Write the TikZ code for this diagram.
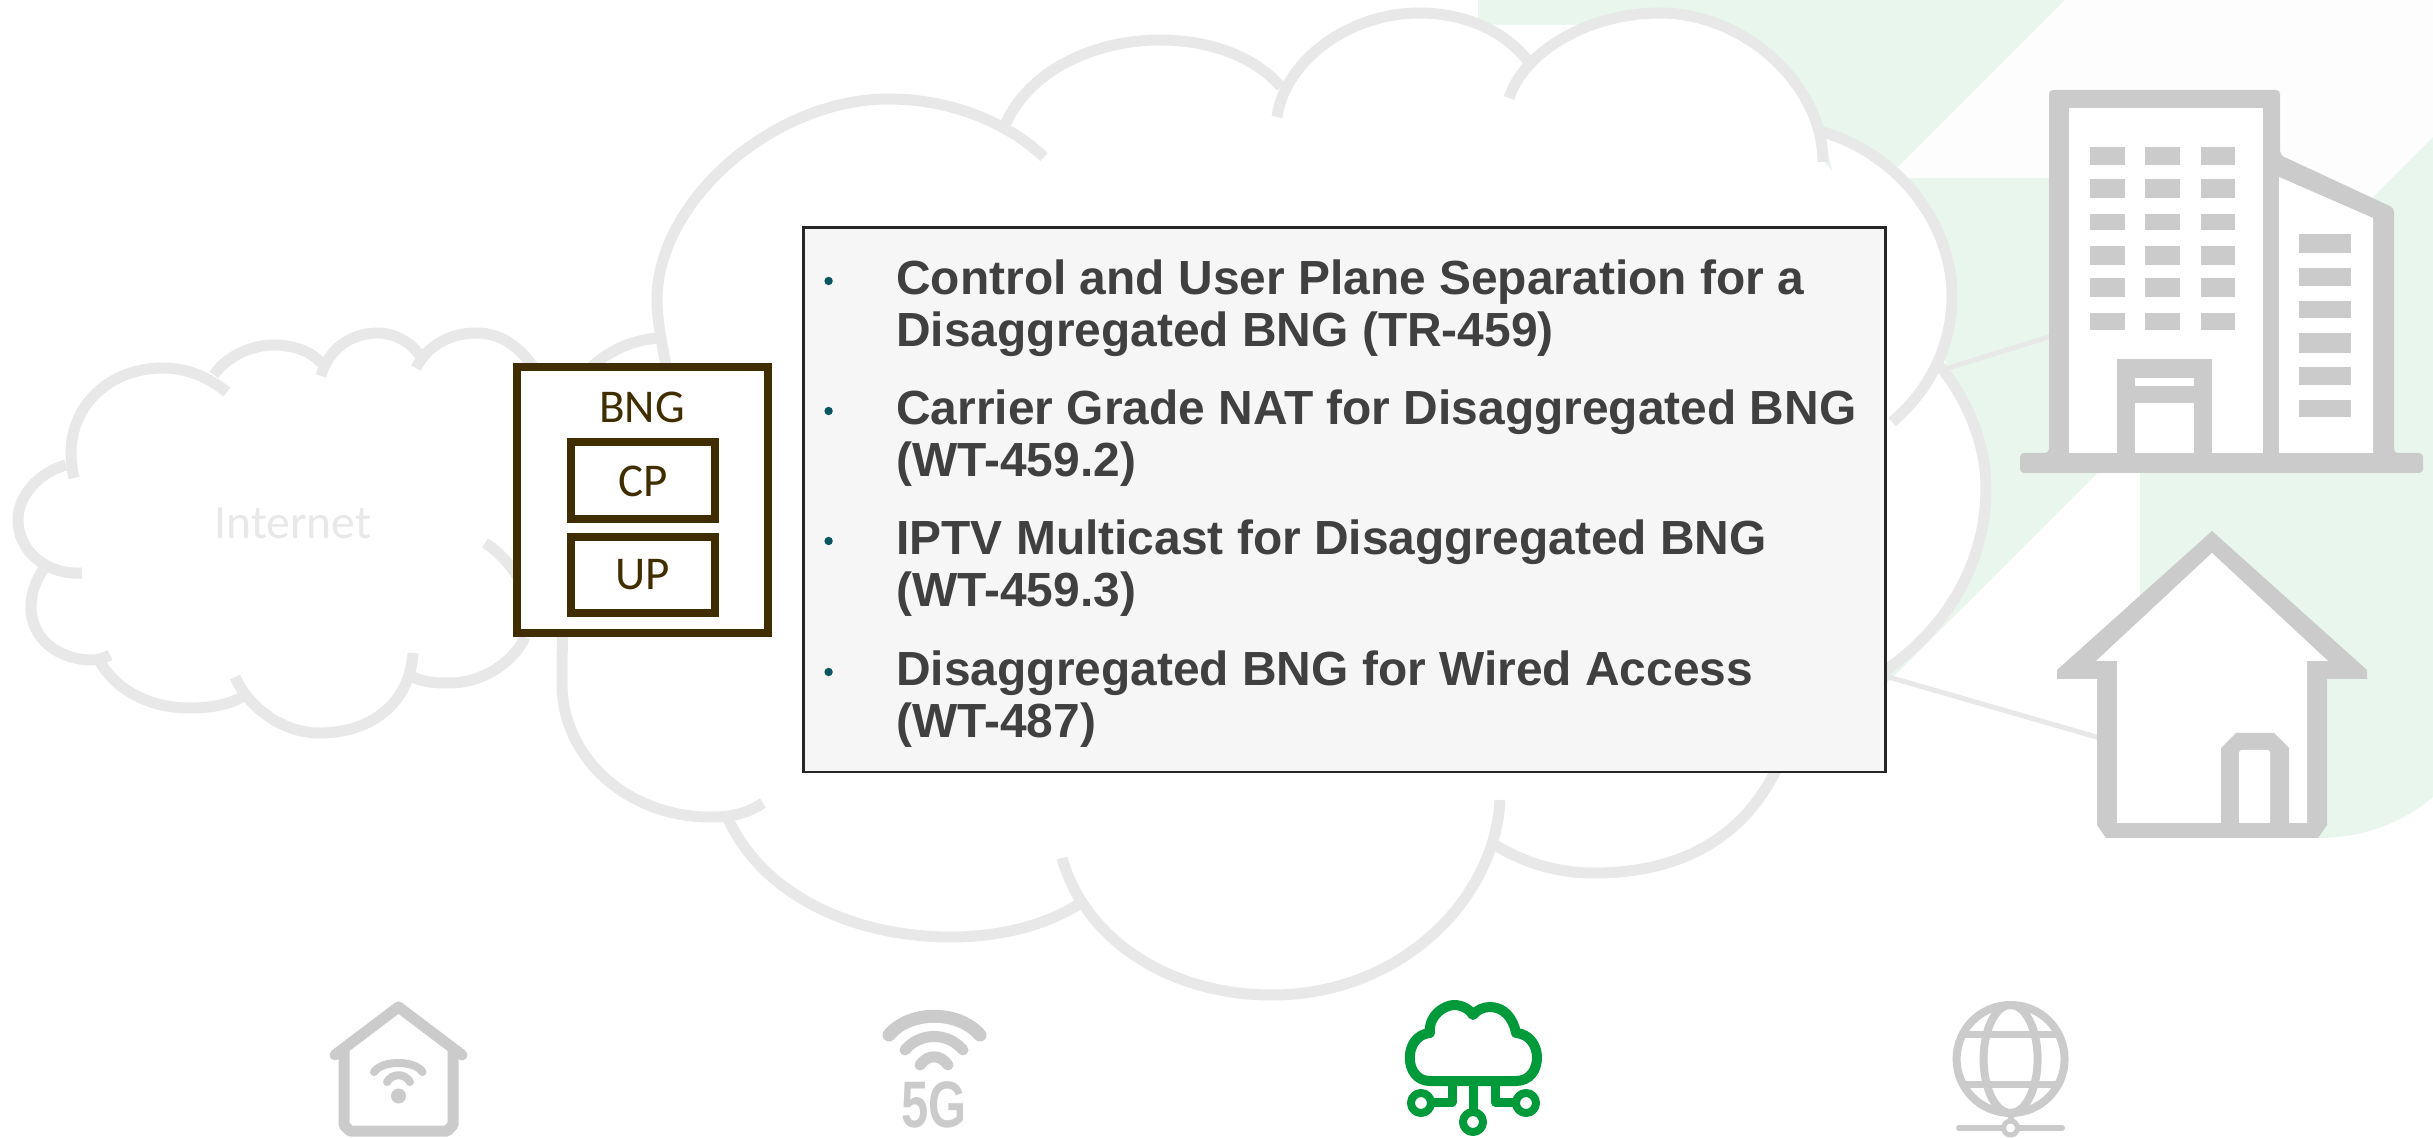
\documentclass[tikz,border=0pt]{standalone}
\usepackage{fontspec}
\setmainfont{Liberation Sans}
\newfontfamily\carlitofont{Carlito}
\definecolor{cloudgray}{HTML}{E8E8E8}
\definecolor{icongray}{HTML}{CBCBCB}
\definecolor{palegreen}{HTML}{E9F6ED}
\definecolor{offwhite}{HTML}{FDFDFD}
\definecolor{bngbrown}{HTML}{402D00}
\definecolor{icongreen}{HTML}{009A3B}
\definecolor{boxfill}{HTML}{F6F6F6}
\definecolor{listtext}{HTML}{404040}
\definecolor{bullet}{HTML}{0B5563}
\tikzset{
  cloudline/.style={draw=cloudgray,line width=5.5pt},
  link/.style={draw=cloudgray,line width=2.5pt},
  bngbox/.style={draw=bngbrown,fill=white,line width=4pt,inner sep=0pt,text=bngbrown,font=\carlitofont\fontsize{23.5}{25}\selectfont},
  listitem/.style={anchor=north west,inner sep=0pt,align=left,text=listtext,font=\bfseries\fontsize{23.95}{26}\selectfont},
  dotmark/.style={circle,fill=bullet,inner sep=0pt,minimum size=4.2pt},
  greyicon/.style={draw=icongray,line cap=round,line join=round},
  greenicon/.style={draw=icongreen,line join=round}
}
\newcommand\cloudfill[1]{\fill[white] #1 -- cycle;}
\newcommand\cloudstroke[1]{\draw[cloudline] #1;}
\newcommand\mainlobes[1]{%
 #1{(669,380) .. controls (662,345) and (657,320) .. (657,300) .. controls (657,200) and (775,99) .. (888,99) .. controls (955,99) and (1010,125) .. (1044,157)}%
 #1{(1006,123) .. controls (1030,70) and (1095,40) .. (1160,40) .. controls (1215,40) and (1258,60) .. (1281,87)}%
 #1{(1277,117) .. controls (1285,60) and (1350,13) .. (1419,13) .. controls (1470,13) and (1510,35) .. (1531,65)}%
 #1{(1509,98) .. controls (1525,50) and (1590,13) .. (1660,13) .. controls (1745,13) and (1823,85) .. (1823,162)}%
 #1{(1823,132) .. controls (1900,155) and (1952,225) .. (1952,296) .. controls (1952,345) and (1930,390) .. (1892,422)}%
 #1{(1939,365) .. controls (1968,400) and (1986,445) .. (1986,488) .. controls (1986,565) and (1945,630) .. (1883,672)}%
 #1{(1790,735) .. controls (1760,830) and (1690,873) .. (1594,873) .. controls (1552,873) and (1520,860) .. (1495,845)}%
 #1{(1500,800) .. controls (1495,900) and (1400,995) .. (1272,995) .. controls (1170,995) and (1085,940) .. (1062,858)}%
 #1{(1085,900) .. controls (1050,925) and (1000,937) .. (951,937) .. controls (860,937) and (765,900) .. (727,817)}%
 #1{(763,803) .. controls (745,815) and (728,817) .. (710,817) .. controls (630,817) and (562,760) .. (562,683) .. controls (562,640) and (565,500) .. (565,420) .. controls (570,375) and (610,342) .. (658,338)}%
}
\newcommand\smalllobes[1]{%
 #1{(227,392) .. controls (205,375) and (185,368) .. (163,368) .. controls (110,368) and (71,405) .. (71,453) .. controls (71,460) and (72,470) .. (74,478)}%
 #1{(214,375) .. controls (225,358) and (250,345) .. (273,345) .. controls (295,345) and (312,352) .. (321,363)}%
 #1{(321,376) .. controls (328,350) and (350,333) .. (378,333) .. controls (395,333) and (412,343) .. (421,357)}%
 #1{(416,368) .. controls (428,345) and (450,333) .. (477,333) .. controls (510,333) and (535,360) .. (550,400)}%
 #1{(66,465) .. controls (40,472) and (18,495) .. (18,520) .. controls (18,550) and (45,575) .. (82,573)}%
 #1{(43,570) .. controls (36,580) and (31,593) .. (31,607) .. controls (31,640) and (60,660) .. (92,660) .. controls (98,660) and (105,658) .. (110,655)}%
 #1{(99,660) .. controls (115,690) and (150,708) .. (189,708) .. controls (210,708) and (228,705) .. (242,697)}%
 #1{(235,677) .. controls (250,710) and (285,733) .. (319,733) .. controls (375,733) and (410,700) .. (413,653)}%
 #1{(413,677) .. controls (425,683) and (437,683) .. (449,683) .. controls (485,683) and (515,660) .. (525,637)}%
 #1{(485,543) .. controls (505,555) and (522,580) .. (530,600)}%
}
\begin{document}
\begin{tikzpicture}[x=0.5pt,y=-0.5pt]
\useasboundingbox (0,0) rectangle (2433,1138);
\fill[white] (0,0) rectangle (2433,1138);
% background shapes
\fill[palegreen] (1478,0) -- (2065,0) -- (1887,178) -- (2433,137) -- (2433,797)
  .. controls (2400,825) and (2360,838) .. (2317,838) -- (2140,838) -- (2140,430) -- (1820,750) -- (1478,400) -- cycle;
\fill[offwhite] (2065,0) -- (2433,0) -- (2433,137) -- (2300,270) -- (2270,178) -- (1887,178) -- cycle;
% connectors
\coordinate (cloudA) at (1945,369);
\coordinate (tower) at (2052,336);
\coordinate (cloudB) at (1885,676);
\coordinate (home) at (2100,738);
\draw[link] (cloudA) -- (tower);
\draw[link] (cloudB) -- (home);
% clouds
\fill[white] (672,420) -- (888,110) -- (1160,50) -- (1419,25) -- (1660,25) -- (1815,150) -- (1930,296) -- (1975,488) -- (1880,665) -- (1777,773) -- (1495,845) -- (1272,985) -- (951,925) -- (727,817) -- (575,650) -- cycle;
\mainlobes\cloudfill
\mainlobes\cloudstroke
\smalllobes\cloudstroke
\node[text=cloudgray,inner sep=0pt,font=\carlitofont\fontsize{23.8}{25}\selectfont] (internet) at (293,523) {Internet};
% building
\fill[icongray,rounded corners=2pt] (2049,90) -- (2280,90) -- (2280,155) -- (2394,208) -- (2394,453) -- (2423,453) -- (2423,473) -- (2020,473) -- (2020,453) -- (2049,453) -- cycle;
\fill[white] (2069,108) rectangle (2263,453);
\fill[white] (2279,177) -- (2373,218) -- (2373,453) -- (2279,453) -- cycle;
\foreach \ya/\yb in {147/165,179/198,214/230,246/265,278/297,313/330}{
  \fill[icongray] (2089.5,\ya) rectangle (2124.6,\yb);
  \fill[icongray] (2144.7,\ya) rectangle (2180,\yb);
  \fill[icongray] (2200.5,\ya) rectangle (2235,\yb);
}
\foreach \ya/\yb in {234/253,268/286,301/318,333/353,367/385,400/417}{
  \fill[icongray] (2299,\ya) rectangle (2351,\yb);
}
\fill[icongray] (2117,359) rectangle (2212,453);
\fill[white] (2135,378) rectangle (2194,386);
\fill[white] (2135,403) rectangle (2194,453);
% house
\fill[icongray] (2212,531) -- (2367,670) -- (2367,679) -- (2327,679) -- (2327,825) -- (2318,838) -- (2106,838) -- (2097,825) -- (2097,679) -- (2057,679) -- (2057,670) -- cycle;
\fill[white] (2212,553) -- (2328,661) -- (2307,661) -- (2307,823) -- (2117,823) -- (2117,661) -- (2096,661) -- cycle;
\fill[icongray] (2221,823) -- (2221,748) -- (2236,733) -- (2274,733) -- (2289,748) -- (2289,823) -- cycle;
\fill[white] (2239,823) -- (2239,752) -- (2241,750) -- (2268,750) -- (2270,752) -- (2270,823) -- cycle;
% wifi house icon
\draw[greyicon,line width=5.5pt] (335,1055) -- (398.5,1007) -- (462,1055);
\draw[greyicon,line width=5.5pt] (344,1050) -- (344,1125) -- (350,1131) -- (447,1131) -- (453,1125) -- (453,1050);
\draw[greyicon,line width=4pt] (374,1072) .. controls (382,1060) and (415,1060) .. (422.5,1072);
\draw[greyicon,line width=4pt] (387,1082) .. controls (392,1073) and (405,1073) .. (410,1082);
\fill[icongray] (398.5,1096) circle [radius=7.5];
% 5G icon
\draw[greyicon,line width=6.5pt] (889,1035) .. controls (910,1010) and (958,1010) .. (980,1035);
\draw[greyicon,line width=5.5pt] (905,1050) .. controls (920,1032) and (948,1032) .. (963,1050);
\draw[greyicon,line width=5.5pt] (920,1065) .. controls (928,1054) and (940,1054) .. (948,1065);
\node[inner sep=0pt,text=icongray,xscale=.79,yscale=1.06,font=\bfseries\fontsize{31}{33}\selectfont] (fiveg) at (934,1105) {5G};
% green cloud icon
\draw[greenicon,line width=5pt] (1430,1081) .. controls (1403,1081) and (1403,1035) .. (1430,1033)
  .. controls (1428,1015) and (1445,1005) .. (1454,1005) .. controls (1463,1005) and (1470,1010) .. (1473,1015)
  .. controls (1477,1010) and (1483,1007) .. (1490,1007) .. controls (1503,1007) and (1513,1017) .. (1516,1033)
  .. controls (1544,1035) and (1544,1081) .. (1516,1081) -- cycle;
\draw[greenicon,line width=4.5pt] (1452,1083) -- (1452,1102) -- (1433,1102);
\draw[greenicon,line width=4.5pt] (1495,1083) -- (1495,1102) -- (1514,1102);
\draw[greenicon,line width=4.5pt] (1473,1083) -- (1473,1110);
\draw[greenicon,line width=4pt,fill=white] (1421,1103) circle [radius=10];
\draw[greenicon,line width=4pt,fill=white] (1526,1103) circle [radius=10];
\draw[greenicon,line width=4pt,fill=white] (1473,1122) circle [radius=10];
% globe icon
\draw[greyicon,line width=4pt] (2010.6,1059) circle [x radius=54,y radius=54];
\draw[greyicon,line width=4pt] (2010.6,1059) circle [x radius=27,y radius=54];
\draw[greyicon,line width=3.5pt] (1966,1034) -- (2056,1034);
\draw[greyicon,line width=3.5pt] (1966,1084) -- (2056,1084);
\draw[greyicon,line width=3pt] (2010.6,1115) -- (2010.6,1122);
\draw[greyicon,line width=3pt] (1959,1128) -- (2062,1128);
\draw[greyicon,line width=2.5pt,fill=white] (2010.6,1128) circle [radius=7];
% text box
\fill[boxfill,draw=black!85,line width=1.25pt] (803.6,227.5) rectangle (1885.7,772);
\node[dotmark] (d1) at (828.6,281) {};
\node[dotmark] (d2) at (828.6,411) {};
\node[dotmark] (d3) at (828.6,541) {};
\node[dotmark] (d4) at (828.6,672) {};
\node[listitem] (i1) at (896,259.5) {Control and User Plane Separation for a\\Disaggregated BNG (TR-459)};
\node[listitem] (i2) at (896,389.5) {Carrier Grade NAT for Disaggregated BNG\\(WT-459.2)};
\node[listitem] (i3) at (896,519.5) {IPTV Multicast for Disaggregated BNG\\(WT-459.3)};
\node[listitem] (i4) at (896,650.5) {Disaggregated BNG for Wired Access\\(WT-487)};
% BNG box
\node[bngbox,minimum width=125.5pt,minimum height=133pt] (bng) at (642.5,500) {};
\node[text=bngbrown,inner sep=0pt,font=\carlitofont\fontsize{23.5}{25}\selectfont] (bnglabel) at (642,407) {BNG};
\node[bngbox,minimum width=72pt,minimum height=38.5pt] (cp) at (643,481) {CP};
\node[bngbox,minimum width=72pt,minimum height=38pt] (up) at (643,575) {UP};
\end{tikzpicture}
\end{document}
